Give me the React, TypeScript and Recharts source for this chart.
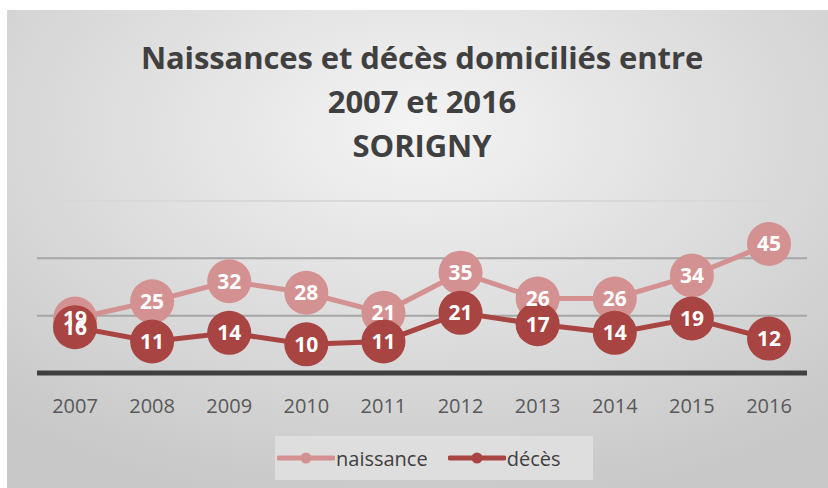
import { LineChart, Line, XAxis, YAxis, ReferenceLine, LabelList } from 'recharts';

const years = ['2007', '2008', '2009', '2010', '2011', '2012', '2013', '2014', '2015', '2016'];
const naissance = [19, 25, 32, 28, 21, 35, 26, 26, 34, 45];
const deces = [16, 11, 14, 10, 11, 21, 17, 14, 19, 12];
const gridValues = [20, 40, 60];
const titleLines = ['Naissances et décès domiciliés entre', '2007 et 2016', 'SORIGNY'];

const PINK = '#d39291';
const RED = '#a84442';
const FONT = '"Open Sans", "Noto Sans", sans-serif';

const data = years.map((year, i) => ({ year, naissance: naissance[i], deces: deces[i] }));

function LegendItem({ color, label }: { color: string; label: string }) {
  return (
    <span style={{ display: 'inline-flex', alignItems: 'center' }}>
      <svg width={58} height={12}>
        <line x1={2} y1={6} x2={56} y2={6} stroke={color} strokeWidth={5} strokeLinecap="round" />
        <circle cx={29} cy={6} r={5.5} fill={color} />
      </svg>
      <span style={{ marginLeft: 1 }}>{label}</span>
    </span>
  );
}

export default function App() {
  return (
    <div style={{ position: 'absolute', left: 0, top: 0, width: 828, height: 488, background: '#fff', overflow: 'hidden' }}>
      <div
        style={{
          position: 'absolute',
          left: 7,
          top: 10,
          width: 821,
          height: 478,
          background: 'radial-gradient(ellipse 75% 80% at 50% 25%, #f4f4f4 0%, #e0e0e0 45%, #c8c8c8 100%)',
          fontFamily: FONT,
        }}
      >
        <div
          style={{
            position: 'absolute',
            left: 0,
            top: 25,
            width: 830,
            textAlign: 'center',
            fontSize: 31,
            fontWeight: 700,
            lineHeight: '44px',
            color: '#404040',
            letterSpacing: -0.1,
          }}
        >
          {titleLines.map(t => (
            <div key={t}>{t}</div>
          ))}
        </div>
        <LineChart
          width={821}
          height={478}
          data={data}
          margin={{ top: 191, right: 21, left: 30, bottom: 75 }}
          style={{ position: 'absolute', left: 0, top: 0 }}
        >
          <YAxis hide domain={[0, 60]} ticks={[0, 20, 40, 60]} />
          <XAxis
            dataKey="year"
            height={40}
            padding={{ left: 38, right: 38 }}
            axisLine={{ stroke: '#404040', strokeWidth: 5 }}
            tickLine={false}
            tick={{ fontSize: 20, fill: '#595959', fontFamily: FONT }}
            tickMargin={20}
          />
          {gridValues.map(v => (
            <ReferenceLine key={v} y={v} stroke={v === 60 ? '#d8d8d8' : '#a6a6a6'} strokeWidth={2} />
          ))}
          <Line
            dataKey="naissance"
            stroke={PINK}
            strokeWidth={5}
            dot={{ r: 22, fill: PINK, stroke: 'none' }}
            isAnimationActive={false}
          >
            <LabelList dataKey="naissance" position="center" fill="#fff" fontSize={21} fontWeight={700} fontFamily={FONT} />
          </Line>
          <Line
            dataKey="deces"
            stroke={RED}
            strokeWidth={5}
            dot={{ r: 22, fill: RED, stroke: 'none' }}
            isAnimationActive={false}
          >
            <LabelList dataKey="deces" position="center" fill="#fff" fontSize={21} fontWeight={700} fontFamily={FONT} />
          </Line>
        </LineChart>
        <div
          style={{
            position: 'absolute',
            left: 268,
            top: 426,
            width: 318,
            height: 44,
            background: '#dedede',
            display: 'flex',
            alignItems: 'center',
            paddingLeft: 2,
            boxSizing: 'border-box',
            gap: 20,
            fontSize: 20,
            color: '#404040',
          }}
        >
          <LegendItem color={PINK} label="naissance" />
          <LegendItem color={RED} label="décès" />
        </div>
      </div>
    </div>
  );
}
